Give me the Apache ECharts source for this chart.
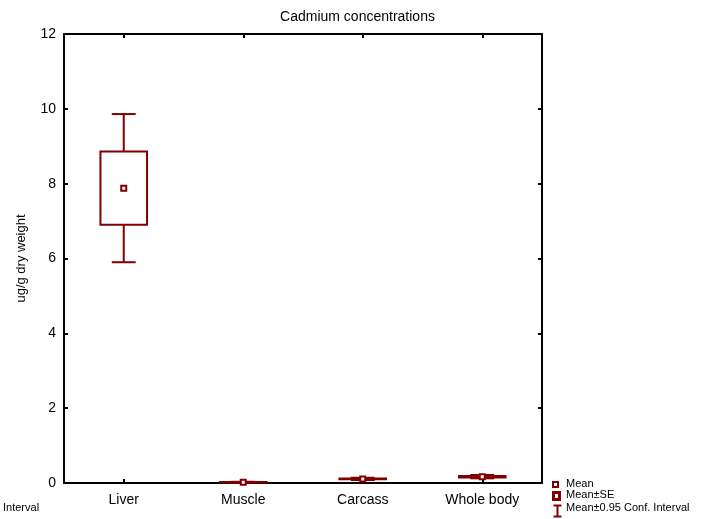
<!DOCTYPE html>
<html>
<head>
<meta charset="utf-8">
<script src="https://cdn.jsdelivr.net/npm/echarts@6/dist/echarts.min.js"></script>
<style>
  html, body { margin: 0; padding: 0; background: #fff; }
  #chart { width: 715px; height: 519px; }
</style>
</head>
<body>
<div id="chart"></div>
<script>
// Cadmium concentrations by tissue: mean, standard error and 95% confidence half-width
const categories = ['Liver', 'Muscle', 'Carcass', 'Whole body'];
const means = [7.88, 0.02, 0.11, 0.17];
const se = [0.98, 0.005, 0.012, 0.02];
const ci95 = [1.98, 0.012, 0.03, 0.045];
const yTicks = [0, 2, 4, 6, 8, 10, 12];

const RED = '#800000';
const FONT = '"Liberation Sans", Arial, sans-serif';

const ciData = categories.map((c, i) => [i, means[i] - ci95[i], means[i] + ci95[i]]);
const seData = categories.map((c, i) => [i, means[i] - se[i], means[i] + se[i]]);
const meanData = categories.map((c, i) => [i, means[i]]);

const chart = echarts.init(document.getElementById('chart'), null, { renderer: 'canvas' });

const frameLine = { show: true, onZero: false, lineStyle: { color: '#000', width: 2 } };
const innerTick = { show: true, inside: true, length: 4, lineStyle: { color: '#000', width: 2 }, alignWithLabel: true };

chart.setOption({
  animation: false,
  backgroundColor: '#fff',
  title: {
    text: 'Cadmium concentrations',
    left: 'center',
    top: 5,
    textStyle: { fontFamily: FONT, fontSize: 14, fontWeight: 'normal', color: '#000' }
  },
  grid: { left: 64, right: 173, top: 34, bottom: 36 },
  xAxis: [
    {
      type: 'category', data: categories, position: 'bottom',
      axisLine: frameLine, axisTick: innerTick,
      axisLabel: { margin: 10, fontFamily: FONT, fontSize: 14, color: '#000' },
      splitLine: { show: false }
    },
    {
      type: 'category', data: categories, position: 'top',
      axisLine: frameLine, axisTick: innerTick,
      axisLabel: { show: false }, splitLine: { show: false }
    }
  ],
  yAxis: [
    {
      type: 'value', min: yTicks[0], max: yTicks[yTicks.length - 1], interval: 2,
      position: 'left',
      name: 'ug/g dry weight', nameLocation: 'middle', nameGap: 36,
      nameTextStyle: { fontFamily: FONT, fontSize: 13, color: '#000' },
      axisLine: frameLine,
      axisTick: { show: true, inside: true, length: 4, lineStyle: { color: '#000', width: 2 } },
      axisLabel: { margin: 8, fontFamily: FONT, fontSize: 14, color: '#000' },
      splitLine: { show: false }
    },
    {
      type: 'value', min: yTicks[0], max: yTicks[yTicks.length - 1], interval: 2,
      position: 'right',
      axisLine: frameLine,
      axisTick: { show: true, inside: true, length: 4, lineStyle: { color: '#000', width: 2 } },
      axisLabel: { show: false }, splitLine: { show: false }
    }
  ],
  series: [
    {
      name: 'Mean±0.95 Conf. Interval',
      type: 'custom',
      xAxisIndex: 0, yAxisIndex: 0,
      z: 2,
      data: ciData,
      renderItem: function (params, api) {
        const i = api.value(0);
        const lo = api.coord([i, api.value(1)]);
        const hi = api.coord([i, api.value(2)]);
        const half = api.size([1, 0])[0] * 0.1;
        const style = { stroke: RED, lineWidth: 2, fill: null };
        return {
          type: 'group',
          children: [
            { type: 'line', shape: { x1: lo[0], y1: lo[1], x2: hi[0], y2: hi[1] }, style: style },
            { type: 'line', shape: { x1: lo[0] - half, y1: lo[1], x2: lo[0] + half, y2: lo[1] }, style: style },
            { type: 'line', shape: { x1: hi[0] - half, y1: hi[1], x2: hi[0] + half, y2: hi[1] }, style: style }
          ]
        };
      }
    },
    {
      name: 'Mean±SE',
      type: 'custom',
      xAxisIndex: 0, yAxisIndex: 0,
      z: 3,
      data: seData,
      renderItem: function (params, api) {
        const i = api.value(0);
        const lo = api.coord([i, api.value(1)]);
        const hi = api.coord([i, api.value(2)]);
        const half = api.size([1, 0])[0] * 0.195;
        return {
          type: 'rect',
          shape: { x: lo[0] - half, y: hi[1], width: half * 2, height: Math.max(lo[1] - hi[1], 0.5) },
          style: { fill: '#fff', stroke: RED, lineWidth: 2 }
        };
      }
    },
    {
      name: 'Mean',
      type: 'scatter',
      xAxisIndex: 0, yAxisIndex: 0,
      z: 4,
      symbol: 'rect',
      symbolSize: 5,
      itemStyle: { color: '#fff', borderColor: RED, borderWidth: 2, opacity: 1 },
      data: meanData
    }
  ],
  graphic: [
    // legend: Mean
    { type: 'rect', left: 552, top: 481, shape: { width: 5, height: 5 }, style: { fill: '#fff', stroke: RED, lineWidth: 2 } },
    { type: 'text', left: 566, top: 478, style: { text: 'Mean', font: '11px ' + FONT, fill: '#000' } },
    // legend: Mean±SE
    { type: 'rect', left: 552, top: 491, shape: { width: 6, height: 7 }, style: { fill: '#fff', stroke: RED, lineWidth: 3 } },
    { type: 'text', left: 566, top: 489, style: { text: 'Mean±SE', font: '11px ' + FONT, fill: '#000' } },
    // legend: confidence interval
    {
      type: 'group', left: 551, top: 503,
      children: [
        { type: 'line', shape: { x1: 4, y1: 0, x2: 4, y2: 11 }, style: { stroke: RED, lineWidth: 2 } },
        { type: 'line', shape: { x1: 0, y1: 0, x2: 8, y2: 0 }, style: { stroke: RED, lineWidth: 2 } },
        { type: 'line', shape: { x1: 0, y1: 11, x2: 8, y2: 11 }, style: { stroke: RED, lineWidth: 2 } }
      ]
    },
    { type: 'text', left: 566, top: 502, style: { text: 'Mean±0.95 Conf. Interval', font: '11px ' + FONT, fill: '#000' } },
    // stray footer label at bottom-left
    { type: 'text', left: 3, top: 502, style: { text: 'Interval', font: '11px ' + FONT, fill: '#000' } }
  ]
});
</script>
</body>
</html>
